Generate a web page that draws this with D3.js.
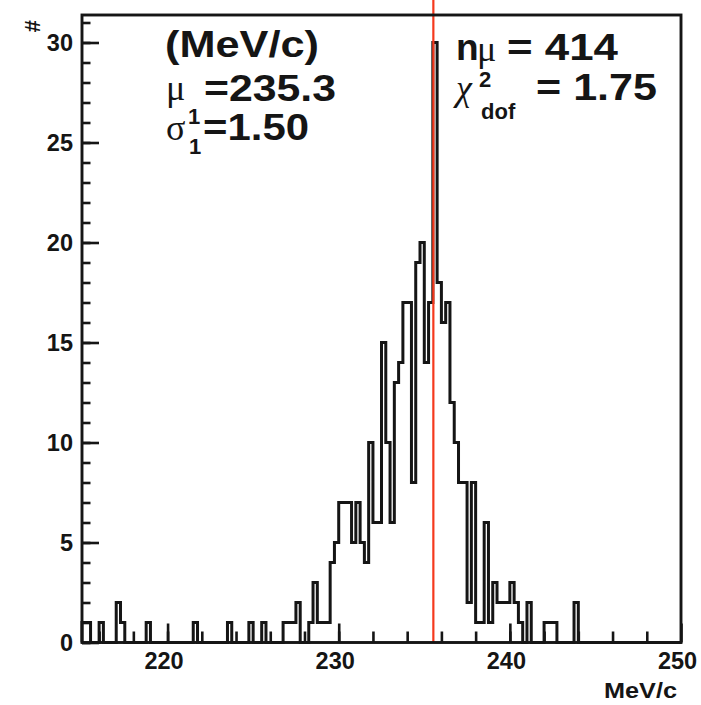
<!DOCTYPE html>
<meta charset="utf-8">
<style>

body { margin: 0; background: #fff; }
svg { display: block; font-family: "Liberation Sans", Arial, sans-serif; }

.frame { fill: none; stroke: #151515; stroke-width: 2.9px; }
.hist { fill: none; stroke: #151515; stroke-width: 3px; }
.axis line { stroke: #151515; stroke-width: 2.6px; }
.axis text { font-family: "Liberation Sans", Arial, sans-serif; font-weight: bold; font-size: 23.5px; fill: #151515; }
.big { font-weight: bold; font-size: 37px; fill: #151515; }
.greek { font-family: "Liberation Serif", serif; font-size: 36px; fill: #151515; }
.small { font-weight: bold; font-size: 22px; fill: #151515; }

</style>
<svg width="701" height="705"></svg>
<script src="https://d3js.org/d3.v7.min.js"></script>
<script>

// histogram binning (MeV/c)
var xMin = 215, xMax = 250, nBins = 140;

// bin contents, 0.25 MeV/c per bin
var counts = [
  1, 1, 0, 0, 1, 0, 0, 0, 2, 1, 0, 0, 0, 0, 0, 1, 0, 0, 0, 0,
  0, 0, 0, 0, 0, 0, 1, 0, 0, 0, 0, 0, 0, 0, 1, 0, 0, 0, 0, 1,
  0, 0, 1, 0, 0, 0, 0, 1, 1, 1, 2, 0, 0, 1, 3, 1, 1, 1, 4, 5,
  7, 7, 7, 5, 7, 5, 4, 10, 6, 6, 15, 10, 6, 13, 14, 17, 17, 8, 19, 20,
  14, 17, 30, 18, 16, 17, 12, 10, 8, 8, 2, 8, 1, 1, 6, 1, 3, 2, 2, 2,
  3, 2, 1, 0, 2, 0, 0, 0, 1, 1, 1, 0, 0, 0, 0, 2, 0, 0, 0, 0,
  0, 0, 0, 0, 0, 0, 0, 0, 0, 0, 0, 0, 0, 0, 0, 0, 0, 0, 0, 0
];

var xTicks = [220, 230, 240, 250];
var yTicks = [0, 5, 10, 15, 20, 25, 30];
var yMax = 31.375;

var refMomentum = 235.53;   // red marker line
var fitMean = "235.3", fitSigma = "1.50", nMuons = "414", chi2dof = "1.75";

var svg = d3.select("svg");

var margin = {left: 82, right: 20, top: 15, bottom: 62.5},
    plotW = 701 - margin.left - margin.right,
    plotH = 705 - margin.top - margin.bottom;

var x = d3.scaleLinear().domain([xMin, xMax]).range([margin.left, margin.left + plotW]);
var y = d3.scaleLinear().domain([0, yMax]).range([margin.top + plotH, margin.top]);

var binW = (xMax - xMin) / nBins;

// step outline of the histogram
var pts = [[xMin, 0]];
counts.forEach(function(c, i) { pts.push([xMin + i * binW, c]); });
pts.push([xMax, 0]);

var line = d3.line()
    .x(function(d) { return x(d[0]); })
    .y(function(d) { return y(d[1]); })
    .curve(d3.curveStepAfter);

svg.append("path")
    .attr("class", "hist")
    .attr("d", line(pts));

// red reference line, runs above the frame to the top edge
svg.append("line")
    .attr("x1", x(refMomentum)).attr("x2", x(refMomentum))
    .attr("y1", 0).attr("y2", y(0))
    .attr("stroke", "#f5391d")
    .attr("stroke-width", 2.2);

// axes: ROOT style inward ticks
var yMajor = svg.append("g").attr("class", "axis")
    .attr("transform", "translate(" + margin.left + ",0)")
    .call(d3.axisLeft(y).tickValues(yTicks).tickSizeInner(-17).tickSizeOuter(0).tickPadding(9));
var yMinor = svg.append("g").attr("class", "axis")
    .attr("transform", "translate(" + margin.left + ",0)")
    .call(d3.axisLeft(y).tickValues(d3.range(0, 32)).tickSizeInner(-8.5).tickSizeOuter(0).tickFormat(""));

var xMajor = svg.append("g").attr("class", "axis")
    .attr("transform", "translate(0," + y(0) + ")")
    .call(d3.axisBottom(x).tickValues(xTicks).tickSizeInner(-19).tickSizeOuter(0).tickPadding(9.5));
var xMinor = svg.append("g").attr("class", "axis")
    .attr("transform", "translate(0," + y(0) + ")")
    .call(d3.axisBottom(x).tickValues(d3.range(216, 250, 2)).tickSizeInner(-11).tickSizeOuter(0).tickFormat(""));

svg.selectAll(".axis .domain").remove();
xMajor.selectAll("text").attr("dx", -4);

// frame
svg.append("rect")
    .attr("class", "frame")
    .attr("x", margin.left).attr("y", margin.top)
    .attr("width", plotW).attr("height", plotH);

// axis titles
svg.append("text")
    .attr("class", "small")
    .attr("x", 677).attr("y", 698)
    .attr("text-anchor", "end")
    .attr("textLength", 73).attr("lengthAdjust", "spacingAndGlyphs")
    .text("MeV/c");

svg.append("text")
    .attr("class", "small")
    .attr("font-size", 15)
    .attr("transform", "translate(40,20) rotate(-90)")
    .attr("text-anchor", "end")
    .text("#");

// fit annotations
function txt(cls, px, py, s, len) {
  var t = svg.append("text").attr("class", cls).attr("x", px).attr("y", py).text(s);
  if (len) t.attr("textLength", len).attr("lengthAdjust", "spacingAndGlyphs");
  return t;
}

txt("big", 165, 57, "(MeV/c)", 154);
txt("greek", 166, 100, "\u03bc");
txt("big", 204, 101, "=" + fitMean, 132);
txt("greek", 166, 140, "\u03c3");
txt("small", 188, 124, "1");
txt("small", 189, 154, "1");
txt("big", 203, 140, "=" + fitSigma, 106);

txt("big", 456, 60, "n");
txt("greek", 477, 61, "\u03bc").attr("font-size", 18);
txt("big", 507, 60, "= " + nMuons, 111);
txt("greek", 456, 100, "\u03c7").attr("font-style", "italic");
txt("small", 479, 87, "2").attr("font-size", 23);
txt("small", 481, 119, "dof").attr("font-size", 25);
txt("big", 536, 100, "= " + chi2dof, 121);

</script>
